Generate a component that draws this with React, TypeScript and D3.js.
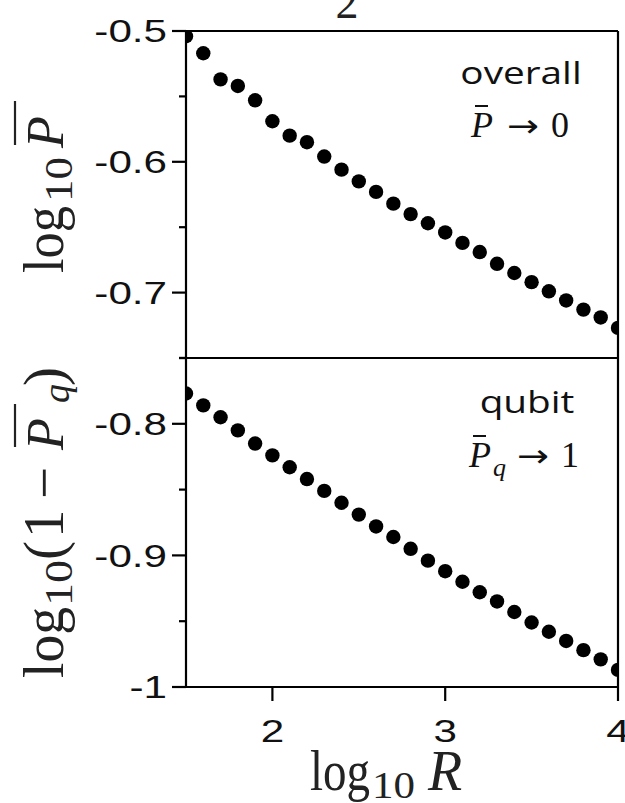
import React from "react";
import * as d3 from "d3";

// log10 R sample positions
const logR = [1.5, 1.6, 1.7, 1.8, 1.9, 2.0, 2.1, 2.2, 2.3, 2.4, 2.5, 2.6, 2.7, 2.8, 2.9, 3.0, 3.1, 3.2, 3.3, 3.4, 3.5, 3.6, 3.7, 3.8, 3.9, 4.0];
// top panel: log10 Pbar (overall)
const overallLogP = [-0.504, -0.517, -0.537, -0.542, -0.553, -0.569, -0.580, -0.585, -0.596, -0.606, -0.615, -0.623, -0.632, -0.640, -0.647, -0.654, -0.662, -0.669, -0.678, -0.685, -0.692, -0.699, -0.706, -0.713, -0.719, -0.727];
// bottom panel: log10(1 - Pbar_q) (qubit)
const qubitLog = [-0.777, -0.786, -0.795, -0.805, -0.815, -0.824, -0.833, -0.842, -0.851, -0.860, -0.869, -0.878, -0.886, -0.895, -0.904, -0.912, -0.920, -0.928, -0.935, -0.943, -0.951, -0.958, -0.965, -0.972, -0.979, -0.987];

const xTicks = [2, 3, 4];
const xTickLabels = ["2", "3", "4"];
const topMajor = [-0.5, -0.6, -0.7];
const topMajorLabels = ["-0.5", "-0.6", "-0.7"];
const topMinor = [-0.55, -0.65, -0.75];
const botMajor = [-0.8, -0.9, -1];
const botMajorLabels = ["-0.8", "-0.9", "-1"];
const botMinor = [-0.75, -0.85, -0.95];

const W = 625;
const H = 803;
const SANS = "'Liberation Sans', Arial, sans-serif";
const SERIF = "'Liberation Serif', 'Times New Roman', serif";
const ANN = "'Open Sans', 'Noto Sans', sans-serif";

export default function App() {
  const x = d3.scaleLinear().domain([1.5, 4]).range([186, 618]);
  const yTop = d3.scaleLinear().domain([-0.75, -0.5]).range([358, 31]);
  const yBot = d3.scaleLinear().domain([-1, -0.75]).range([687, 358]);

  const L = x(1.5);
  const Rr = x(4);
  const T = yTop(-0.5);
  const M = yTop(-0.75);
  const B = yBot(-1);
  const axisW = 2.2;
  const dotR = 7.2;

  const tickLabelFs = 31;
  const sx = 1.36;

  return (
    <svg
      width={W}
      height={H}
      viewBox={`0 0 ${W} ${H}`}
      style={{ position: "absolute", left: 0, top: 0, background: "#fff" }}
    >
      <defs>
        <clipPath id="clipTop">
          <rect x={L} y={T} width={Rr - L} height={M - T} />
        </clipPath>
        <clipPath id="clipBot">
          <rect x={L} y={M} width={Rr - L} height={B - M} />
        </clipPath>
      </defs>

      {/* partial title digit at the very top */}
      <text x={347} y={18} fontFamily={SERIF} fontSize={46} textAnchor="middle" fill="#222">2</text>

      {/* data points */}
      <g clipPath="url(#clipTop)">
        {logR.map((r, i) => (
          <circle key={"t" + i} cx={x(r)} cy={yTop(overallLogP[i])} r={dotR} fill="#000" />
        ))}
      </g>
      <g clipPath="url(#clipBot)">
        {logR.map((r, i) => (
          <circle key={"b" + i} cx={x(r)} cy={yBot(qubitLog[i])} r={dotR} fill="#000" />
        ))}
      </g>

      {/* frame */}
      <g stroke="#000" strokeWidth={axisW} fill="none">
        <line x1={L} x2={Rr} y1={T} y2={T} />
        <line x1={L} x2={Rr} y1={M} y2={M} />
        <line x1={L} x2={Rr} y1={B} y2={B} />
        <line x1={L} x2={L} y1={T} y2={B} />
        <line x1={Rr} x2={Rr} y1={T} y2={B} />
      </g>

      {/* ticks */}
      <g stroke="#000" strokeWidth={axisW}>
        {topMajor.map((v) => (
          <line key={"tm" + v} x1={L - 14} x2={L} y1={yTop(v)} y2={yTop(v)} />
        ))}
        {topMinor.map((v) => (
          <line key={"tn" + v} x1={L - 7} x2={L} y1={yTop(v)} y2={yTop(v)} />
        ))}
        {botMajor.map((v) => (
          <line key={"bm" + v} x1={L - 14} x2={L} y1={yBot(v)} y2={yBot(v)} />
        ))}
        {botMinor.map((v) => (
          <line key={"bn" + v} x1={L - 7} x2={L} y1={yBot(v)} y2={yBot(v)} />
        ))}
        {xTicks.map((v) => (
          <line key={"xt" + v} x1={x(v)} x2={x(v)} y1={B} y2={B + 14} />
        ))}
      </g>

      {/* tick labels */}
      <g fontFamily={SANS} fontSize={tickLabelFs} fill="#111">
        {topMajor.map((v, i) => (
          <text key={"tl" + v} transform={`translate(167,${yTop(v)}) scale(${sx},1)`} textAnchor="end" dy="0.36em">
            {topMajorLabels[i]}
          </text>
        ))}
        {botMajor.map((v, i) => (
          <text key={"bl" + v} transform={`translate(167,${yBot(v)}) scale(${sx},1)`} textAnchor="end" dy="0.36em">
            {botMajorLabels[i]}
          </text>
        ))}
        {xTicks.map((v, i) => (
          <text key={"xl" + v} transform={`translate(${x(v)},742) scale(${sx},1)`} textAnchor="middle">
            {xTickLabels[i]}
          </text>
        ))}
      </g>

      {/* x axis label */}
      <g fontFamily={SERIF} fill="#222">
        <text x={310} y={790} fontSize={56} textLength={60} lengthAdjust="spacingAndGlyphs">log</text>
        <text x={372} y={798} fontSize={38} textLength={43} lengthAdjust="spacingAndGlyphs">10</text>
        <text x={428} y={790} fontSize={56} fontStyle="italic">R</text>
      </g>

      {/* top y label */}
      <g transform="translate(63,0) rotate(-90)" fontFamily={SERIF} fill="#222">
        <text x={-273} y={0} fontSize={57} textLength={67} lengthAdjust="spacingAndGlyphs">log</text>
        <text x={-202} y={9} fontSize={40} textLength={45} lengthAdjust="spacingAndGlyphs">10</text>
        <text x={-148} y={0} fontSize={52} fontStyle="italic">P</text>
        <line x1={-145} x2={-101} y1={-48} y2={-48} stroke="#222" strokeWidth={2.2} />
      </g>

      {/* bottom y label */}
      <g transform="translate(63,0) rotate(-90)" fontFamily={SERIF} fill="#222">
        <text x={-678} y={0} fontSize={57} textLength={71} lengthAdjust="spacingAndGlyphs">log</text>
        <text x={-606} y={9} fontSize={40} textLength={46} lengthAdjust="spacingAndGlyphs">10</text>
        <text x={-560} y={0} fontSize={57}>(</text>
        <text x={-538} y={0} fontSize={57}>1</text>
        <text x={-499} y={0} fontSize={57}>−</text>
        <text x={-450} y={0} fontSize={52} fontStyle="italic">P</text>
        <line x1={-447} x2={-404} y1={-48} y2={-48} stroke="#222" strokeWidth={2.2} />
        <text x={-403} y={6} fontSize={38} fontStyle="italic">q</text>
        <text x={-386} y={0} fontSize={57}>)</text>
      </g>

      {/* annotations */}
      <g fill="#111">
        <text transform="translate(521,84) scale(1.25,1)" textAnchor="middle" fontFamily={ANN} fontSize={31}>overall</text>
        <text x={471} y={137} fontFamily={SERIF} fontStyle="italic" fontSize={36}>P</text>
        <line x1={475} x2={488} y1={106} y2={106} stroke="#111" strokeWidth={2} />
        <text x={507} y={137} fontFamily="'DejaVu Sans', sans-serif" fontSize={32} textLength={32} lengthAdjust="spacingAndGlyphs">→</text>
        <text x={551} y={137} fontFamily={SERIF} fontSize={36}>0</text>

        <text transform="translate(527,413) scale(1.25,1)" textAnchor="middle" fontFamily={ANN} fontSize={31}>qubit</text>
        <text x={469} y={467} fontFamily={SERIF} fontStyle="italic" fontSize={36}>P</text>
        <line x1={473} x2={486} y1={436} y2={436} stroke="#111" strokeWidth={2} />
        <text x={493} y={476} fontFamily={SERIF} fontStyle="italic" fontSize={26}>q</text>
        <text x={517} y={467} fontFamily="'DejaVu Sans', sans-serif" fontSize={32} textLength={32} lengthAdjust="spacingAndGlyphs">→</text>
        <text x={561} y={467} fontFamily={SERIF} fontSize={36}>1</text>
      </g>
    </svg>
  );
}
